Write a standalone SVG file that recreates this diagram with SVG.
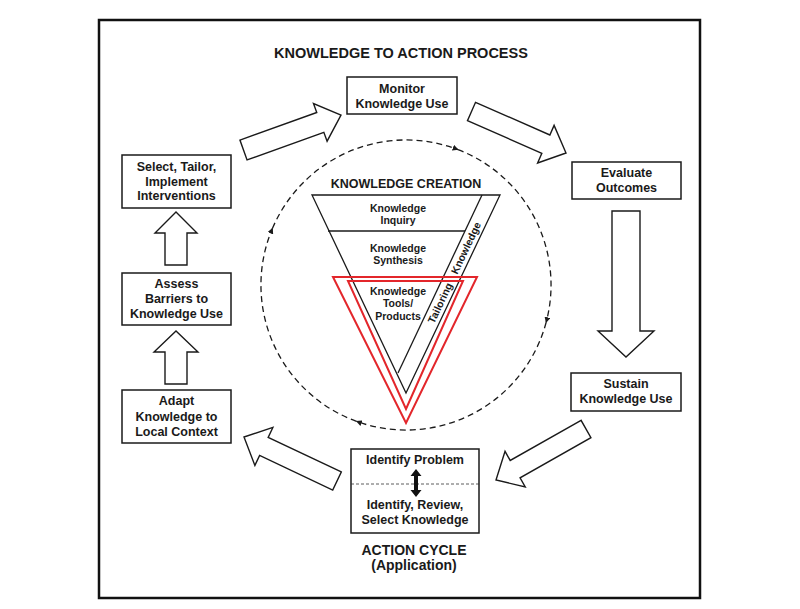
<svg xmlns="http://www.w3.org/2000/svg" width="800" height="609" viewBox="0 0 800 609">
<defs>
<style>
text{font-family:"Liberation Sans",Arial,sans-serif;font-weight:bold;fill:#1a1a1a;text-anchor:middle}
.box{fill:#fff;stroke:#1a1a1a;stroke-width:1.5}
.t{font-size:12.5px}
.f{font-size:10.5px}
.blk{fill:#fff;stroke:#1a1a1a;stroke-width:1.4;stroke-linejoin:miter}
.arc{fill:none;stroke:#1a1a1a;stroke-width:1.3;stroke-dasharray:6 4}
.fun{fill:none;stroke:#1a1a1a;stroke-width:1.3}
.red{fill:none;stroke:#e3262b;stroke-width:2}
</style>
<marker id="ah" viewBox="0 0 10 10" refX="9" refY="5" markerWidth="6" markerHeight="6" markerUnits="userSpaceOnUse" orient="auto">
<path d="M0,0 L10,5 L0,10 z" fill="#1a1a1a"/>
</marker>
</defs>
<rect width="800" height="609" fill="#fff"/>
<rect x="99" y="20" width="601" height="578" fill="none" stroke="#111" stroke-width="2.5"/>
<text x="401" y="58" style="font-size:14.5px">KNOWLEDGE TO ACTION PROCESS</text>

<g id="connectors">
<polygon class="blk" points="239.95,140.1 316.75,112.5 313.5,103.6 341,115 327.1,141.2 323.85,132.3 247.05,159.9"/>
<polygon class="blk" points="475.52,102.34 549.87,135.0 554.09,125.38 566,153 537.61,162.94 541.83,153.32 467.48,120.66"/>
<polygon class="blk" points="612,211 640,211 640,331 654,331 626,357 598,331 612,331"/>
<polygon class="blk" points="581.07,420.3 510.21,460.45 505.04,451.35 496,480 525.24,486.95 520.07,477.85 590.93,437.7"/>
<polygon class="blk" points="341.28,471.96 268.17,437.38 272.88,427.44 244,437 254.9,465.4 259.61,455.46 332.72,490.04"/>
<polygon class="blk" points="165,384 187,384 187,352 198,352 176,331 154,352 165,352"/>
<polygon class="blk" points="165,265 187,265 187,233 197,233 176,212 155,233 165,233"/>
<path class="arc" marker-end="url(#ah)" d="M272.5,228.3 A145,145 0 0 1 458.0,149.6"/>
<path class="arc" marker-end="url(#ah)" d="M458.0,149.6 A145,145 0 0 1 546.1,322.5"/>
<path class="arc" marker-end="url(#ah)" d="M546.1,322.5 A145,145 0 0 1 356.4,421.3"/>
<path class="arc" marker-end="url(#ah)" d="M356.4,421.3 A145,145 0 0 1 272.5,228.3"/>
</g>

<g id="monitor">
<rect class="box" x="347" y="77" width="110" height="37"/>
<text class="t" x="402" y="93">Monitor</text>
<text class="t" x="402" y="108">Knowledge Use</text>
</g>
<g id="evaluate">
<rect class="box" x="572" y="162" width="109" height="37"/>
<text class="t" x="626.5" y="177">Evaluate</text>
<text class="t" x="626.5" y="192">Outcomes</text>
</g>
<g id="sustain">
<rect class="box" x="571" y="373" width="110" height="38"/>
<text class="t" x="626" y="387.5">Sustain</text>
<text class="t" x="626" y="403">Knowledge Use</text>
</g>
<g id="identify">
<rect class="box" x="351" y="449" width="128" height="84"/>
<line x1="351" y1="484" x2="479" y2="484" stroke="#333" stroke-width="0.8" stroke-dasharray="3 2"/>
<polygon points="416,469 421.5,476 418,476 418,490 421.5,490 416,497 410.5,490 414,490 414,476 410.5,476" fill="#111"/>
<text class="t" x="415" y="464">Identify Problem</text>
<text class="t" x="415" y="509">Identify, Review,</text>
<text class="t" x="415" y="524">Select Knowledge</text>
</g>
<g id="action-cycle">
<text x="414" y="555" style="font-size:14px">ACTION CYCLE</text>
<text x="414" y="570" style="font-size:14px">(Application)</text>
</g>
<g id="adapt">
<rect class="box" x="122" y="390" width="109" height="53"/>
<text class="t" x="176.5" y="405">Adapt</text>
<text class="t" x="176.5" y="420.5">Knowledge to</text>
<text class="t" x="176.5" y="436">Local Context</text>
</g>
<g id="assess">
<rect class="box" x="122" y="273" width="109" height="52"/>
<text class="t" x="176.5" y="288">Assess</text>
<text class="t" x="176.5" y="303">Barriers to</text>
<text class="t" x="176.5" y="318">Knowledge Use</text>
</g>
<g id="select">
<rect class="box" x="122" y="155" width="109" height="53"/>
<text class="t" x="176.5" y="171">Select, Tailor,</text>
<text class="t" x="176.5" y="185.5">Implement</text>
<text class="t" x="176.5" y="200">Interventions</text>
</g>

<g id="knowledge-creation">
<text x="406" y="188" style="font-size:12.5px">KNOWLEDGE CREATION</text>
<polygon class="fun" points="312,195 500,195 406,393"/>
<line class="fun" x1="482" y1="195" x2="398" y2="373"/>
<line class="fun" x1="328" y1="231" x2="465" y2="231"/>
<polygon class="red" points="333,277 477,277 406,423"/>
<polygon class="red" points="348,281 463,281 406,409"/>
<text class="f" x="398" y="211.5">Knowledge</text>
<text class="f" x="398" y="224">Inquiry</text>
<text class="f" x="398" y="252">Knowledge</text>
<text class="f" x="398" y="264">Synthesis</text>
<text class="f" x="398" y="294.5">Knowledge</text>
<text class="f" x="398" y="307">Tools/</text>
<text class="f" x="398" y="319.5">Products</text>
<text class="f" transform="translate(466,248) rotate(-64.6)" x="0" y="3.7">Knowledge</text>
<text class="f" transform="translate(440,303) rotate(-64.6)" x="0" y="3.7">Tailoring</text>
</g>
</svg>
